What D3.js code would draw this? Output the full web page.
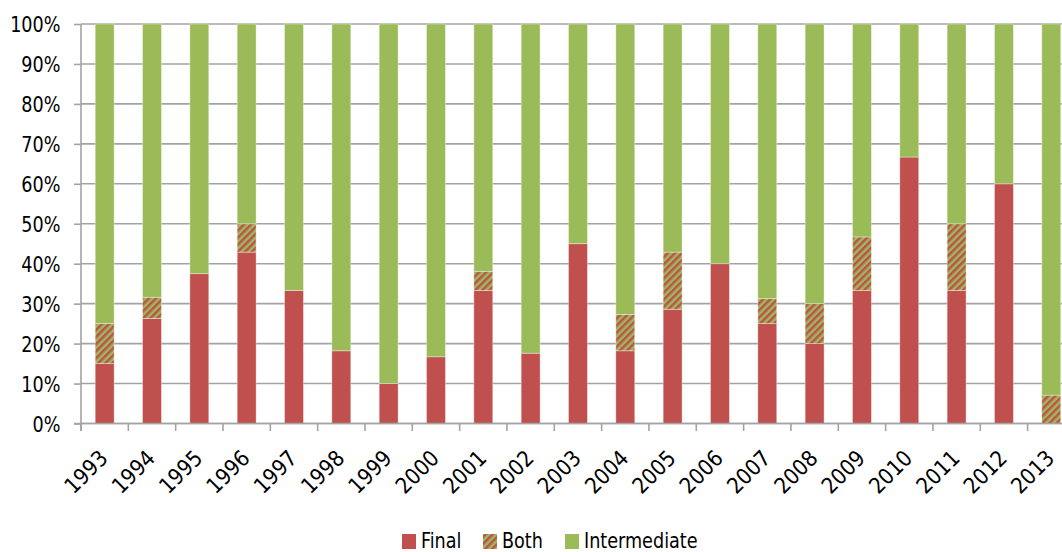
<!DOCTYPE html>
<html>
<head>
<meta charset="utf-8">
<script src="https://cdn.jsdelivr.net/npm/d3@7"></script>
<style>
  html, body { margin: 0; padding: 0; background: #fff; }
  svg { display: block; }
  text { font-family: "DejaVu Sans Condensed", "Liberation Sans", sans-serif; fill: #000; }
</style>
</head>
<body>
<svg id="chart" width="1062" height="552"></svg>
<script>
// Share of each year's items, in percent
const years = ["1993","1994","1995","1996","1997","1998","1999","2000","2001","2002","2003",
               "2004","2005","2006","2007","2008","2009","2010","2011","2012","2013"];
const finalShare = [15, 26.3, 37.5, 42.9, 33.3, 18.2, 10, 16.7, 33.3, 17.6, 45,
                    18.2, 28.6, 40, 25, 20, 33.3, 66.7, 33.3, 60, 0];
const bothShare  = [10, 5.3, 0, 7.1, 0, 0, 0, 0, 4.8, 0, 0,
                    9.1, 14.3, 0, 6.25, 10, 13.4, 0, 16.7, 0, 7.1];
const intermediateShare = years.map((_, i) => 100 - finalShare[i] - bothShare[i]);
const yTicks = [0, 10, 20, 30, 40, 50, 60, 70, 80, 90, 100];
const seriesNames = ["Final", "Both", "Intermediate"];

const RED = "#C0504D", GREEN = "#9BBB59", GRID = "#A3A3A3";
const FONT_SIZE = 22, NARROW = 0.89;   // condensed look for axis and legend labels

const rows = years.map((y, i) => ({
  year: y, Final: finalShare[i], Both: bothShare[i], Intermediate: intermediateShare[i]
}));

const svg = d3.select("#chart");

// Diagonal red/green stripes for the "Both" series
const defs = svg.append("defs");
const pat = defs.append("pattern")
  .attr("id", "both-hatch")
  .attr("patternUnits", "userSpaceOnUse")
  .attr("width", 5).attr("height", 5)
  .attr("patternTransform", "rotate(45)");
pat.append("rect").attr("width", 5).attr("height", 5).attr("fill", GREEN);
pat.append("rect").attr("width", 2.5).attr("height", 5).attr("fill", RED);

const plotLeft = 81, plotTop = 24, plotBottom = 423.5;
const band = 47.33;

const x = d3.scaleBand()
  .domain(years)
  .range([plotLeft, plotLeft + band * years.length])
  .paddingInner(0.6)
  .paddingOuter(0.3);

const y = d3.scaleLinear().domain([0, 100]).range([plotBottom, plotTop]);

// Horizontal gridlines
svg.append("g")
  .attr("class", "grid")
  .selectAll("line")
  .data(yTicks)
  .join("line")
  .attr("x1", plotLeft).attr("x2", 1062)
  .attr("y1", d => y(d)).attr("y2", d => y(d))
  .attr("stroke", GRID).attr("stroke-width", 1.6);

// Value axis with short ticks left of the axis line
const yAxis = d3.axisLeft(y)
  .tickValues(yTicks)
  .tickFormat(d => d + "%")
  .tickSize(7);

const gy = svg.append("g")
  .attr("transform", `translate(${plotLeft},0)`)
  .call(yAxis);
gy.select(".domain").attr("stroke", GRID).attr("stroke-width", 1.6)
  .attr("d", `M0,${plotTop}V${plotBottom + 7.5}`);
gy.selectAll(".tick line").attr("stroke", GRID).attr("stroke-width", 1.6);
gy.selectAll(".tick text")
  .attr("font-size", FONT_SIZE)
  .attr("font-family", null)
  .attr("x", 0)
  .attr("dy", "0.36em")
  .attr("transform", `translate(-20.5,0) scale(${NARROW},1)`);

// Stacked bars
const stack = d3.stack().keys(seriesNames);
const layers = stack(rows);
const fills = { Final: RED, Both: "url(#both-hatch)", Intermediate: GREEN };

svg.append("g")
  .selectAll("g")
  .data(layers)
  .join("g")
  .attr("fill", d => fills[d.key])
  .selectAll("rect")
  .data(d => d.filter(s => s[1] - s[0] > 0))
  .join("rect")
  .attr("x", d => x(d.data.year))
  .attr("width", x.bandwidth())
  .attr("y", d => y(d[1]))
  .attr("height", d => y(d[0]) - y(d[1]))
  .attr("stroke", "rgba(255,255,255,0.45)")
  .attr("stroke-width", 0.8);

// Category axis with ticks between the bars
const gx = svg.append("g").attr("transform", `translate(0,${plotBottom})`);
gx.append("line")
  .attr("x1", plotLeft - 7).attr("x2", 1062)
  .attr("y1", 0).attr("y2", 0)
  .attr("stroke", GRID).attr("stroke-width", 1.6);
gx.selectAll("line.tick")
  .data(years)
  .join("line")
  .attr("class", "tick")
  .attr("x1", d => x(d) - x.step() * x.paddingInner() / 2)
  .attr("x2", d => x(d) - x.step() * x.paddingInner() / 2)
  .attr("y1", 0).attr("y2", 7.5)
  .attr("stroke", GRID).attr("stroke-width", 1.6);
gx.selectAll("text")
  .data(years)
  .join("text")
  .attr("font-size", FONT_SIZE)
  .attr("text-anchor", "end")
  .attr("transform", d =>
    `translate(${x(d) + x.bandwidth() / 2 + 4.5},36) rotate(-45)`)
  .text(d => d);

// Legend
const legendItems = [
  { name: "Final", fill: RED, x: 402 },
  { name: "Both", fill: "url(#both-hatch)", x: 483 },
  { name: "Intermediate", fill: GREEN, x: 565 }
];
const lg = svg.append("g");
lg.selectAll("rect")
  .data(legendItems)
  .join("rect")
  .attr("x", d => d.x).attr("y", 534)
  .attr("width", 14).attr("height", 15)
  .attr("fill", d => d.fill);
lg.selectAll("text")
  .data(legendItems)
  .join("text")
  .attr("font-size", FONT_SIZE)
  .attr("transform", d => `translate(${d.x + 19},548) scale(${NARROW},1)`)
  .text(d => d.name);
</script>
</body>
</html>
